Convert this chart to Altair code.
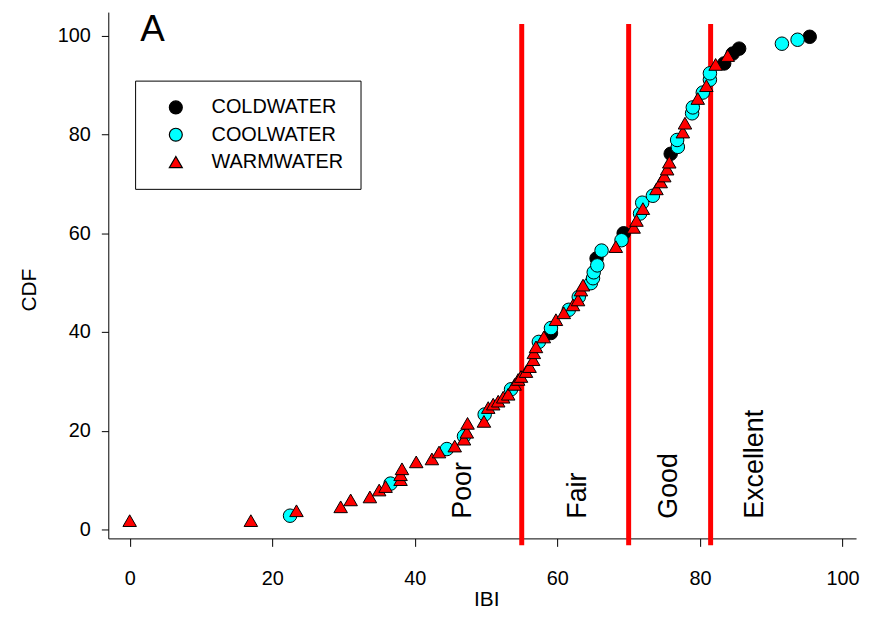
import altair as alt
import pandas as pd

# ---- data ----
cold_x = [59.1, 65.5, 69.3, 75.9, 83.4, 84.6, 85.5, 95.4]
cold_y = [39.8, 54.9, 60.0, 76.1, 94.4, 96.4, 97.4, 99.8]

cool_x = [22.5, 36.6, 44.5, 46.9, 49.8, 53.5, 57.4, 59.1, 61.6, 63.0, 64.7, 65.0, 65.1, 65.6,
          66.2, 69.0, 71.6, 71.9, 73.4, 76.9, 76.8, 78.9, 79.0, 80.4, 81.4, 81.4, 91.5, 93.7]
cool_y = [2.8, 9.3, 16.3, 18.9, 23.3, 28.4, 38.0, 40.8, 44.5, 47.1, 49.9, 50.9, 52.1, 53.5,
          56.5, 58.6, 64.0, 66.2, 67.6, 77.5, 78.9, 84.3, 85.5, 88.5, 91.1, 92.4, 98.4, 99.2]

warm_x = [0.0, 17.0, 23.4, 29.6, 31.0, 33.7, 35.0, 35.9, 38.0, 38.0, 38.2, 40.2, 42.4, 43.4,
          45.6, 46.9, 47.3, 47.4, 49.7, 50.3, 51.0, 51.7, 52.4, 53.1, 54.0, 54.5, 54.9, 55.6,
          56.1, 56.6, 56.7, 57.0, 58.1, 59.8, 60.9, 62.2, 62.9, 63.3, 63.6, 68.2, 70.7, 71.1,
          72.0, 73.9, 74.5, 75.0, 75.4, 75.7, 77.6, 77.9, 79.7, 80.9, 82.2, 83.9]
warm_y = [1.8, 1.8, 3.8, 4.6, 6.0, 6.6, 8.0, 8.7, 10.1, 11.1, 12.3, 13.7, 14.3, 15.7,
          16.9, 18.3, 19.7, 21.5, 21.9, 24.7, 25.4, 26.0, 26.8, 27.4, 29.4, 30.4, 31.0, 32.0,
          33.0, 34.4, 35.8, 37.0, 39.0, 42.5, 43.9, 45.5, 46.5, 48.5, 49.5, 57.3, 61.2, 62.6,
          65.0, 69.0, 70.4, 71.6, 73.0, 74.4, 80.5, 82.3, 87.3, 89.9, 94.2, 96.0]

groups = ["COLDWATER", "COOLWATER", "WARMWATER"]
group_colors = ["#000000", "#00FFFF", "#FF0000"]
group_shapes = ["circle", "circle", "triangle-up"]
group_outline = ["#000000", "#000000", "#000000"]

cut_x = [55, 70, 81.5]
cut_y0 = [-3.2, -3.2, -3.2]
cut_y1 = [102.4, 102.4, 102.4]

class_labels = ["Poor", "Fair", "Good", "Excellent"]
class_x = [46.7, 62.9, 75.6, 87.8]
class_y = [2.2, 2.2, 2.2, 2.2]

panel_label = ["A"]
panel_x = [3.2]
panel_y = [99.0]

axis_titles = ["IBI", "CDF"]
axis_title_x = [50.1, -14.0]
axis_title_y = [-14.2, 48.5]
axis_title_angle = [0, 270]

x_ticks = [0, 20, 40, 60, 80, 100]
y_ticks = [0, 20, 40, 60, 80, 100]
x_domain = [-3.0, 101.9]
y_domain = [-1.8, 104.8]

# ---- tables ----
rows = []
for g, xs, ys in zip(groups, [cold_x, cool_x, warm_x], [cold_y, cool_y, warm_y]):
    for a, b in zip(xs, ys):
        rows.append({"IBI": a, "CDF": b, "group": g})
pts = pd.DataFrame(rows)
cuts = pd.DataFrame({"IBI": cut_x, "y0": cut_y0, "y1": cut_y1})
labs = pd.DataFrame({"IBI": class_x, "CDF": class_y, "t": class_labels})
pan = pd.DataFrame({"IBI": panel_x, "CDF": panel_y, "t": panel_label})
ttl = pd.DataFrame({"IBI": axis_title_x, "CDF": axis_title_y, "t": axis_titles,
                    "a": axis_title_angle})

FONT = "Liberation Sans"

xscale = alt.Scale(domain=x_domain, nice=False, zero=False)
yscale = alt.Scale(domain=y_domain, nice=False, zero=False)

xaxis = alt.Axis(values=x_ticks, title=None, tickSize=8, labelPadding=22)
yaxis = alt.Axis(values=y_ticks, title=None, tickSize=7, labelPadding=11)


def X(field):
    return alt.X(field, scale=xscale, axis=xaxis)


def Y(field):
    return alt.Y(field, scale=yscale, axis=yaxis)


leg = dict(title=None, orient="none", legendX=27, legendY=69, strokeColor="black",
           fillColor="white", padding=17, symbolOffset=14, labelOffset=26, rowPadding=7.5,
           labelFontSize=20, labelFont=FONT, labelColor="black", symbolSize=170,
           symbolStrokeColor="black", symbolStrokeWidth=1.2, symbolOpacity=1)

points = alt.Chart(pts).mark_point(filled=True, size=185, strokeWidth=1, opacity=1).encode(
    x=X("IBI:Q"),
    y=Y("CDF:Q"),
    color=alt.Color("group:N", scale=alt.Scale(domain=groups, range=group_colors),
                    legend=alt.Legend(**leg)),
    shape=alt.Shape("group:N", scale=alt.Scale(domain=groups, range=group_shapes),
                    legend=alt.Legend(**leg)),
    stroke=alt.Stroke("group:N", scale=alt.Scale(domain=groups, range=group_outline),
                      legend=alt.Legend(**leg)),
)

rules = alt.Chart(cuts).mark_rule(color="#FF0000", strokeWidth=5).encode(
    x=X("IBI:Q"), y=Y("y0:Q"), y2="y1:Q")

classes = alt.Chart(labs).mark_text(angle=270, align="left", baseline="middle",
                                    fontSize=27, font=FONT, color="black").encode(
    x=X("IBI:Q"), y=Y("CDF:Q"), text="t:N")

panel = alt.Chart(pan).mark_text(align="center", baseline="alphabetic", fontSize=37,
                                 font=FONT, color="black").encode(
    x=X("IBI:Q"), y=Y("CDF:Q"), text="t:N")

titles = alt.Chart(ttl).mark_text(align="center", baseline="middle", fontSize=21,
                                  font=FONT, color="black").encode(
    x=X("IBI:Q"), y=Y("CDF:Q"), text="t:N", angle=alt.Angle("a:Q", scale=None))

chart = alt.layer(rules, points, classes, panel, titles).properties(
    width=753, height=530,
    autosize=alt.AutoSizeParams(type="none"),
    padding={"left": 101, "top": 2, "right": 6, "bottom": 75},
).configure_view(strokeWidth=0).configure_axis(
    domainWidth=1, tickWidth=1, grid=False, domainColor="black", tickColor="black",
    labelFontSize=20, labelFont=FONT, labelColor="black", labelFlush=False,
)

chart.save("out.html", embed_options={"renderer": "svg", "actions": False})
